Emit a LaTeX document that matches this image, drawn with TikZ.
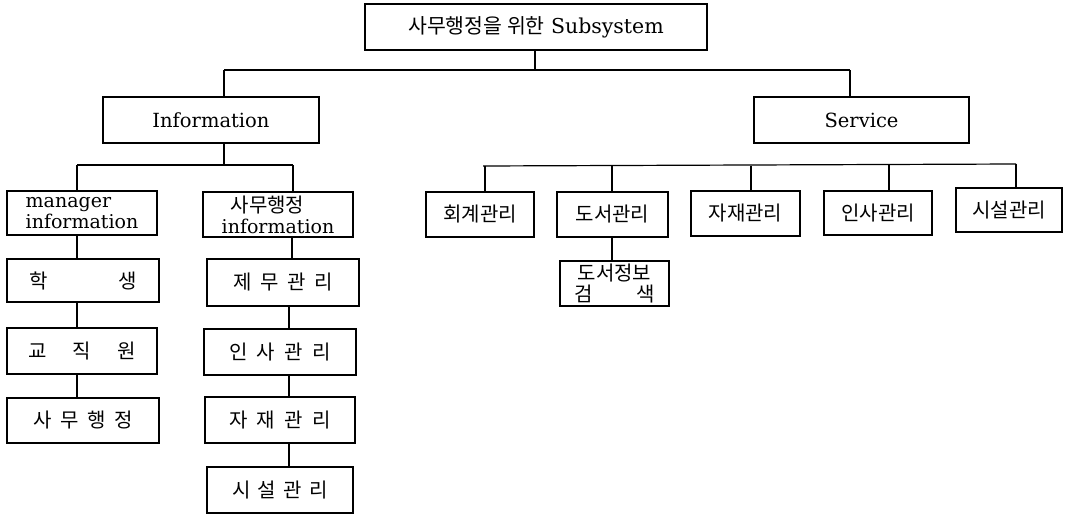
\documentclass[tikz,border=0pt]{standalone}
\usepackage{fontspec}
\setmainfont{DejaVu Serif}
\newfontfamily\krfont{Noto Sans CJK KR}
\begin{document}
\begin{tikzpicture}[x=1pt,y=-1pt,
  box/.style={draw=black,line width=1.1pt,inner sep=0pt,anchor=center,
    font=\fontsize{19.5}{22}\selectfont},
  kbox/.style={box,font=\krfont\fontsize{20}{21}\selectfont},
  conn/.style={draw=black,line width=1.2pt}]
\useasboundingbox (0,0) rectangle (1069,514);
% level 0
\node[box,minimum width=342pt,minimum height=46pt] (T) at (536,27)
  {{\krfont\fontsize{20.5}{21}\selectfont 사무행정을 위한} \fontsize{20.5}{22}\selectfont Subsystem};
% level 1
\node[box,minimum width=216pt,minimum height=46pt] (I) at (211,120) {Information};
\node[box,minimum width=215pt,minimum height=46pt] (S) at (861.5,120) {Service};
% information children
\node[box,minimum width=150pt,minimum height=44pt,align=left,
  font=\fontsize{19}{21}\selectfont] (M) at (82,213) {manager\\information};
\node[box,minimum width=150pt,minimum height=45pt,align=left,
  font=\fontsize{19}{21}\selectfont] (A) at (278,214.5)
  {\hspace{9pt}{\krfont\fontsize{20}{21}\selectfont 사무행정}\\information};
% left column
\node[kbox,minimum width=152pt,minimum height=43pt] (L1) at (83,280.5) {\makebox[107pt]{학\hfill 생}};
\node[kbox,minimum width=150pt,minimum height=46pt] (L2) at (82,351) {\makebox[108pt]{교\hfill 직\hfill 원}};
\node[kbox,minimum width=152pt,minimum height=45pt] (L3) at (83,420.5) {\makebox[100pt]{사\hfill 무\hfill 행\hfill 정}};
% right column
\node[kbox,minimum width=152pt,minimum height=47pt] (R1) at (283,282.5) {\makebox[100pt]{제\hfill 무\hfill 관\hfill 리}};
\node[kbox,minimum width=152pt,minimum height=46pt] (R2) at (280,352) {\makebox[102pt]{인\hfill 사\hfill 관\hfill 리}};
\node[kbox,minimum width=150pt,minimum height=46pt] (R3) at (280,420) {\makebox[102pt]{자\hfill 재\hfill 관\hfill 리}};
\node[kbox,minimum width=146pt,minimum height=46pt] (R4) at (280,490) {\makebox[96pt]{시\hfill 설\hfill 관\hfill 리}};
% service children
\node[kbox,minimum width=108pt,minimum height=45pt] (C1) at (480,214.5) {회계관리};
\node[kbox,minimum width=111pt,minimum height=45pt] (C2) at (612.5,214.5) {도서관리};
\node[kbox,minimum width=109pt,minimum height=45pt] (C3) at (745.5,213.5) {자재관리};
\node[kbox,minimum width=108pt,minimum height=44pt] (C4) at (878,213) {인사관리};
\node[kbox,minimum width=106pt,minimum height=44pt] (C5) at (1009,210) {시설관리};
\node[kbox,minimum width=109pt,minimum height=45pt,align=center] (D) at (614.5,283.5)
  {도서정보\\\makebox[81pt]{검\hfill 색}};
% top connectors
\coordinate (t0) at (535,70);
\coordinate (t1) at (224,70);
\coordinate (t2) at (850,70);
\draw[conn] (T.south -| t0) -- (t0);
\draw[conn] (t1) -- (t2);
\draw[conn] (t1) -- (t1 |- I.north);
\draw[conn] (t2) -- (t2 |- S.north);
% information connectors
\coordinate (i0) at (224,165);
\coordinate (i1) at (77,165);
\coordinate (i2) at (293,165);
\draw[conn] (I.south -| i0) -- (i0);
\draw[conn] (i1) -- (i2);
\draw[conn] (i1) -- (i1 |- M.north);
\draw[conn] (i2) -- (i2 |- A.north);
% left column connectors
\coordinate (lx) at (77,0);
\draw[conn] (M.south -| lx) -- (L1.north -| lx);
\draw[conn] (L1.south -| lx) -- (L2.north -| lx);
\draw[conn] (L2.south -| lx) -- (L3.north -| lx);
% right column connectors
\coordinate (rx1) at (292,0);
\coordinate (rx) at (289,0);
\draw[conn] (A.south -| rx1) -- (R1.north -| rx1);
\draw[conn] (R1.south -| rx) -- (R2.north -| rx);
\draw[conn] (R2.south -| rx) -- (R3.north -| rx);
\draw[conn] (R3.south -| rx) -- (R4.north -| rx);
% service bus
\coordinate (s0) at (483,166);
\coordinate (s1) at (485,166);
\coordinate (s2) at (612,166);
\coordinate (s3) at (751,165.5);
\coordinate (s4) at (889,165);
\coordinate (s5) at (1016,164);
\draw[conn] (s0) -- (s5);
\draw[conn] (s1) -- (s1 |- C1.north);
\draw[conn] (s2) -- (s2 |- C2.north);
\draw[conn] (s3) -- (s3 |- C3.north);
\draw[conn] (s4) -- (s4 |- C4.north);
\draw[conn] (s5) -- (s5 |- C5.north);
\coordinate (dx) at (612,0);
\draw[conn] (C2.south -| dx) -- (D.north -| dx);
\end{tikzpicture}
\end{document}
